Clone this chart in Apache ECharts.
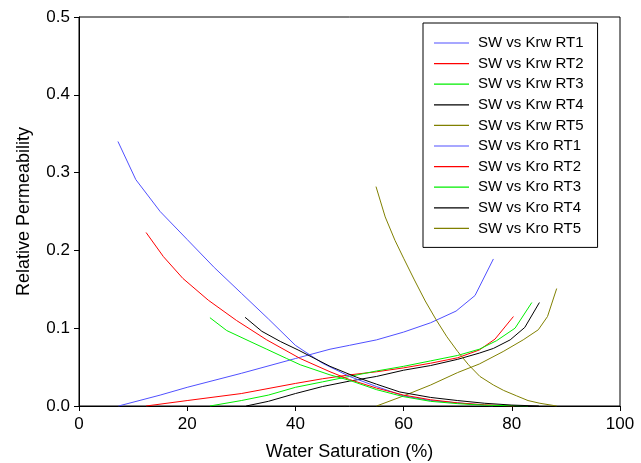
<!DOCTYPE html>
<html>
<head>
<meta charset="utf-8">
<script src="https://cdn.jsdelivr.net/npm/echarts@6/dist/echarts.min.js"></script>
<style>
  html, body { margin: 0; padding: 0; background: #fff; }
  #chart { width: 641px; height: 463px; }
</style>
</head>
<body>
<div id="chart"></div>
<script>
// Relative permeability curves per rock type: [water saturation %, k]
const krwRT1 = [[7.3,0],[15,0.014],[20,0.024],[30,0.042],[40,0.061],[46.4,0.073],[50,0.078],[55,0.085],[60,0.095],[65,0.107],[69.7,0.122],[73.2,0.142],[76.6,0.189]];
const krwRT2 = [[12.4,0],[20,0.007],[30,0.016],[40,0.029],[45,0.035],[50,0.04],[55,0.044],[60,0.049],[65,0.055],[70,0.062],[74,0.072],[76.9,0.086],[80.3,0.115]];
const krwRT3 = [[24.2,0],[30,0.007],[35,0.014],[40,0.024],[45,0.031],[50,0.038],[55,0.045],[60,0.051],[65,0.058],[70,0.065],[74,0.073],[77.2,0.084],[80.6,0.1],[83.7,0.133]];
const krwRT4 = [[30.9,0],[35,0.006],[40,0.016],[45,0.025],[50,0.032],[55,0.038],[60,0.046],[65,0.052],[70,0.06],[74,0.068],[76.6,0.074],[79.7,0.085],[82.4,0.101],[85.1,0.133]];
const krwRT5 = [[55,0],[60,0.013],[65,0.027],[70,0.043],[74,0.054],[78.4,0.07],[82.1,0.085],[84.9,0.098],[86.6,0.115],[88.3,0.151]];

const kroRT1 = [[7.2,0.34],[10.5,0.291],[15,0.25],[20,0.214],[25,0.178],[30,0.145],[35,0.112],[40,0.078],[45,0.055],[50,0.038],[55,0.025],[60,0.013],[65,0.007],[70,0.004],[76.5,0]];
const kroRT2 = [[12.4,0.223],[15.6,0.192],[19.2,0.164],[23.9,0.136],[29.1,0.11],[34.7,0.085],[40.9,0.061],[46.4,0.044],[50,0.034],[55,0.023],[60,0.014],[65,0.008],[70,0.004],[75,0.0015],[80.5,0]];
const kroRT3 = [[24.2,0.1135],[27.3,0.097],[31.6,0.083],[34.7,0.073],[38.4,0.061],[40.9,0.053],[46.4,0.04],[50,0.033],[55,0.021],[60,0.012],[65,0.006],[70,0.003],[75,0.001],[83,0]];
const kroRT4 = [[30.7,0.114],[33.8,0.096],[37.2,0.083],[40.5,0.072],[46.4,0.051],[51.3,0.037],[55,0.028],[59.3,0.018],[65,0.011],[70,0.007],[75,0.0035],[80,0.0012],[85,0]];
const kroRT5 = [[54.9,0.282],[56.6,0.243],[58.4,0.213],[60,0.19],[62,0.162],[64,0.135],[66,0.111],[68,0.089],[70,0.07],[72,0.053],[74.1,0.038],[76.6,0.027],[78.5,0.02],[80.9,0.013],[83,0.007],[85.2,0.0035],[88.3,0]];

const seriesNames = [
  'SW vs Krw RT1','SW vs Krw RT2','SW vs Krw RT3','SW vs Krw RT4','SW vs Krw RT5',
  'SW vs Kro RT1','SW vs Kro RT2','SW vs Kro RT3','SW vs Kro RT4','SW vs Kro RT5'
];
const seriesData = [krwRT1, krwRT2, krwRT3, krwRT4, krwRT5, kroRT1, kroRT2, kroRT3, kroRT4, kroRT5];
const rtColors = ['#5050ff', '#ff0000', '#00ee00', '#000000', '#808000'];

const fontFamily = '"Liberation Sans", Arial, sans-serif';

const chart = echarts.init(document.getElementById('chart'), null, { renderer: 'canvas' });

chart.setOption({
  animation: false,
  backgroundColor: '#ffffff',
  textStyle: { fontFamily: fontFamily, color: '#000' },
  grid: {
    left: 79, top: 17, right: 21, bottom: 57,
    outerBoundsMode: 'none',
    containLabel: false,
    show: true, borderColor: '#000', borderWidth: 1, backgroundColor: 'transparent'
  },
  legend: {
    orient: 'vertical',
    left: 423, top: 23,
    padding: [12, 14, 11, 11],
    icon: 'rect',
    itemWidth: 35, itemHeight: 1.2, itemGap: 4.6,
    borderColor: '#000', borderWidth: 1,
    backgroundColor: '#fff',
    textStyle: { fontFamily: fontFamily, fontSize: 15, lineHeight: 16, color: '#000', padding: [0, 0, 0, 4] },
    data: seriesNames
  },
  xAxis: {
    type: 'value', min: 0, max: 100, interval: 20,
    name: 'Water Saturation (%)', nameLocation: 'middle', nameGap: 37,
    nameTextStyle: { fontFamily: fontFamily, fontSize: 18, color: '#000' },
    axisLine: { show: true, onZero: false, lineStyle: { color: '#000', width: 1 } },
    axisTick: { show: true, inside: false, length: 5, lineStyle: { color: '#000' } },
    axisLabel: { fontFamily: fontFamily, fontSize: 17, color: '#000', margin: 10 },
    splitLine: { show: false }
  },
  yAxis: {
    type: 'value', min: 0, max: 0.5, interval: 0.1,
    name: 'Relative Permeability', nameLocation: 'middle', nameGap: 46, nameRotate: 90,
    nameTextStyle: { fontFamily: fontFamily, fontSize: 18, color: '#000' },
    axisLine: { show: true, onZero: false, lineStyle: { color: '#000', width: 1 } },
    axisTick: { show: true, inside: false, length: 5, lineStyle: { color: '#000' } },
    axisLabel: { fontFamily: fontFamily, fontSize: 17, color: '#000', margin: 9,
      formatter: v => v.toFixed(1) },
    splitLine: { show: false }
  },
  series: seriesData.map((d, i) => ({
    name: seriesNames[i],
    type: 'line',
    data: d,
    symbol: 'none',
    smooth: false,
    z: 2,
    lineStyle: { color: rtColors[i % 5], width: 1 },
    itemStyle: { color: rtColors[i % 5] }
  }))
});
</script>
</body>
</html>
